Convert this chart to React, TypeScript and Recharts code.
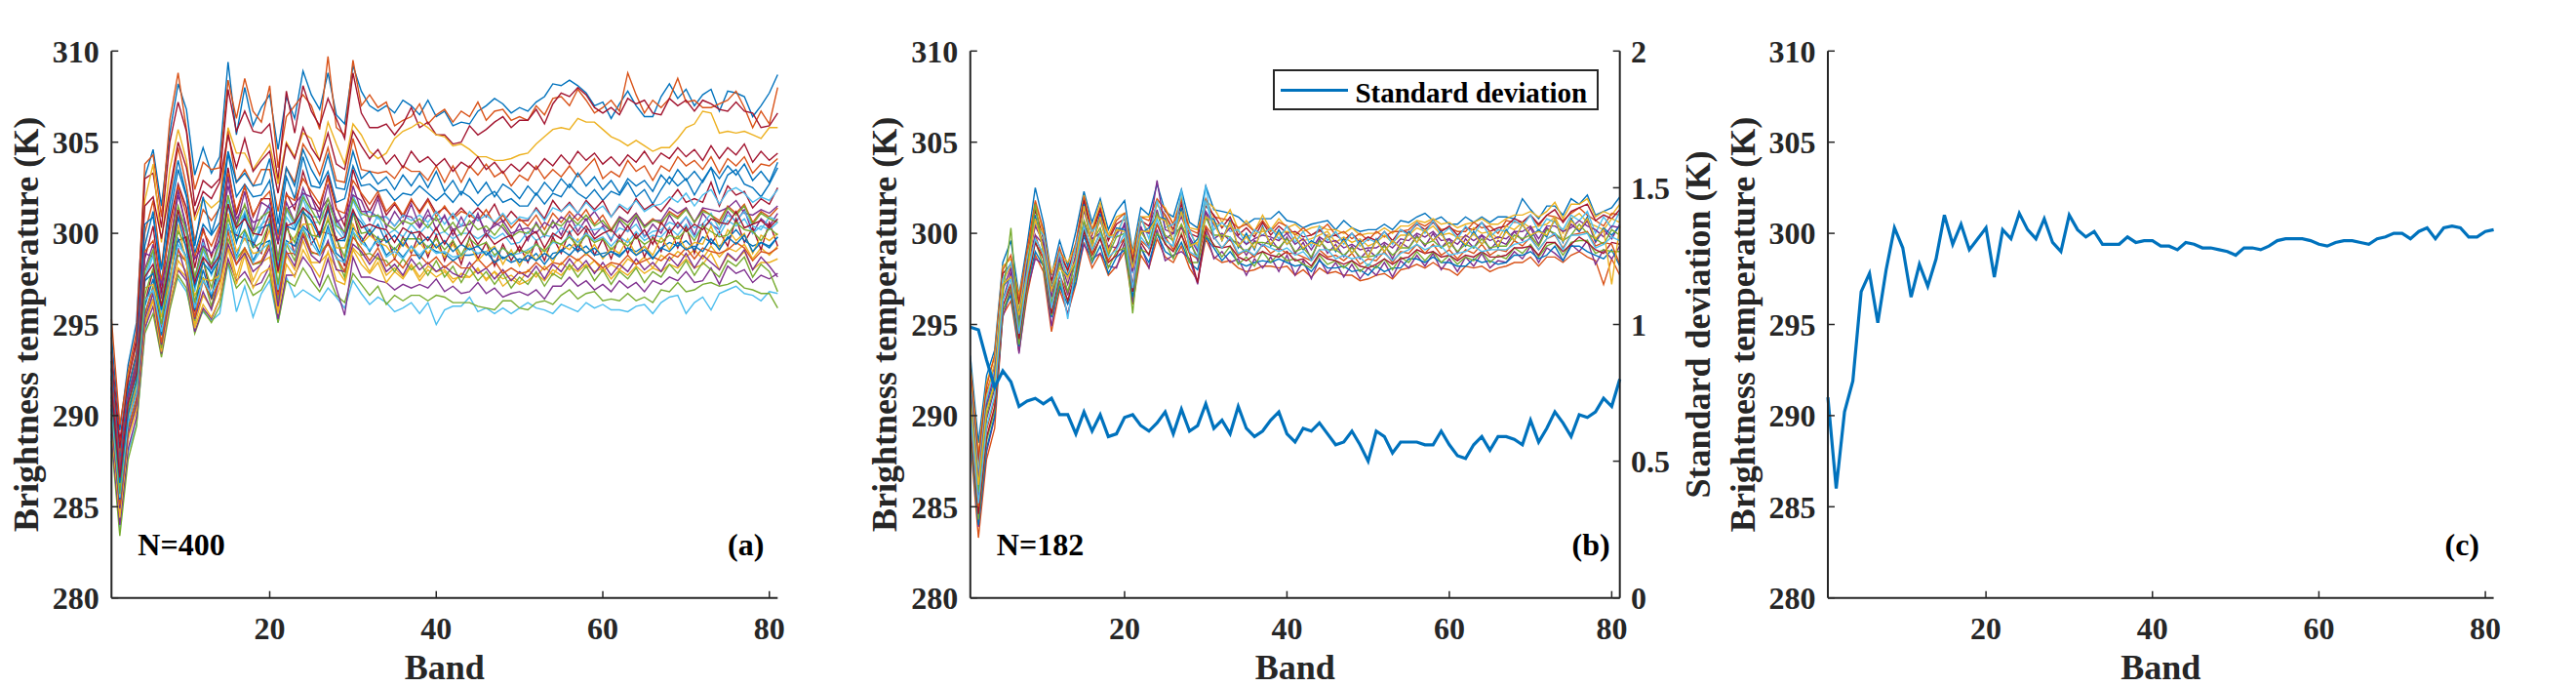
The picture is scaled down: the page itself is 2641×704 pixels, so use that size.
import React from 'react';
import { LineChart, Line, XAxis, YAxis, Legend, Customized } from 'recharts';

const FONT = '"Liberation Serif", "Times New Roman", serif';
const AXIS = '#262626';
const C = {
  blue: '#0072BD', orange: '#D95319', yellow: '#EDB120', purple: '#7E2F8E',
  green: '#77AC30', cyan: '#4DBEEE', red: '#A2142F',
};

// ---------- categories & ticks ----------
const bands = [1,2,3,4,5,6,7,8,9,10,11,12,13,14,15,16,17,18,19,20,21,22,23,24,25,26,27,28,29,30,31,32,33,34,35,36,37,38,39,40,41,42,43,44,45,46,47,48,49,50,51,52,53,54,55,56,57,58,59,60,61,62,63,64,65,66,67,68,69,70,71,72,73,74,75,76,77,78,79,80,81];
const btTicks = [280, 285, 290, 295, 300, 305, 310];
const bandTicks = [20, 40, 60, 80];
const stdTicks = [0, 0.5, 1, 1.5, 2];

// ---------- panel (c): mean brightness temperature ----------
const meanBT = [291.0,286.0,290.2,291.9,296.8,297.8,295.1,298.0,300.3,299.2,296.5,298.3,297.1,298.6,301.0,299.4,300.5,299.1,299.7,300.3,297.6,300.2,299.7,301.1,300.2,299.7,300.8,299.5,299.0,301.0,300.2,299.8,300.1,299.4,299.4,299.4,299.8,299.5,299.6,299.6,299.3,299.3,299.1,299.5,299.4,299.2,299.2,299.1,299.0,298.8,299.2,299.2,299.1,299.3,299.6,299.7,299.7,299.7,299.6,299.4,299.3,299.5,299.6,299.6,299.5,299.4,299.7,299.8,300.0,300.0,299.7,300.1,300.3,299.7,300.3,300.4,300.3,299.8,299.8,300.1,300.2];

// ---------- panel (b): standard deviation ----------
const stdBT = [0.99,0.98,0.87,0.77,0.83,0.79,0.70,0.72,0.73,0.71,0.73,0.67,0.67,0.60,0.68,0.61,0.67,0.59,0.60,0.66,0.67,0.63,0.61,0.64,0.68,0.60,0.69,0.61,0.63,0.71,0.62,0.65,0.60,0.70,0.62,0.59,0.61,0.65,0.68,0.60,0.57,0.62,0.61,0.64,0.60,0.56,0.57,0.61,0.56,0.50,0.61,0.59,0.53,0.57,0.57,0.57,0.56,0.56,0.61,0.56,0.52,0.51,0.56,0.59,0.54,0.59,0.59,0.58,0.56,0.65,0.57,0.62,0.68,0.64,0.59,0.67,0.66,0.68,0.73,0.70,0.80];

// ---------- panel (a): sample spectra (N=400) ----------
const a01 = [294.3,289.2,292.8,295.1,303.1,304.6,301.5,305.5,308.2,306.8,303.2,304.7,303.3,304.2,309.4,305.4,308.0,305.9,306.9,307.6,304.6,307.5,306.3,308.9,307.6,306.8,308.8,306.5,306.0,309.2,307.8,307.0,306.7,307.0,306.6,307.3,307.0,306.5,307.3,306.4,306.7,305.9,306.1,306.0,306.7,307.0,307.4,307.1,306.6,306.9,306.7,307.2,307.5,308.2,308.1,308.4,308.1,307.7,307.0,307.2,306.3,307.1,307.8,307.0,306.4,306.4,307.5,308.2,307.4,307.9,307.0,307.6,307.9,306.7,307.8,307.7,307.5,306.4,307.0,307.7,308.7];
const a02 = [295.3,289.5,292.4,294.6,303.8,304.3,300.9,306.2,308.8,305.7,302.4,303.9,303.5,303.6,308.4,306.3,308.5,306.7,306.1,308.1,303.6,306.4,307.0,307.6,307.0,305.7,309.7,305.8,305.4,309.5,307.0,307.6,306.9,307.2,305.9,306.2,306.4,307.1,306.0,306.5,306.8,306.1,306.7,306.4,307.2,306.2,306.7,306.8,306.2,306.4,306.2,307.0,306.5,307.4,307.5,307.0,307.9,307.3,306.6,306.9,307.3,306.7,308.8,307.6,306.6,307.3,306.9,307.4,308.5,307.2,307.3,306.9,306.9,307.1,307.3,307.8,306.9,305.8,306.7,306.0,308.0];
const a03 = [293.5,288.6,292.0,294.2,303.0,303.3,300.3,305.0,307.2,305.6,301.5,302.9,302.5,303.0,307.9,305.6,306.7,305.6,305.5,306.0,302.9,307.8,305.5,308.1,306.7,305.9,307.4,306.3,305.2,308.8,306.6,305.8,305.8,306.0,305.4,306.0,306.9,305.8,306.1,305.4,305.4,304.9,305.0,305.9,305.4,305.7,306.1,306.4,305.8,306.2,306.2,306.8,306.0,307.1,307.7,307.5,308.0,307.6,306.9,306.6,306.9,306.5,307.4,307.1,307.3,306.6,306.5,307.4,307.0,307.3,306.7,307.3,307.1,306.8,306.7,307.2,306.7,306.6,305.8,305.9,306.6];
const a04 = [293.0,288.0,292.2,293.9,301.8,303.8,299.5,303.5,305.7,304.0,300.7,301.9,301.4,301.8,305.8,304.4,304.4,303.5,304.2,304.9,302.7,305.0,304.2,305.5,305.2,304.0,306.1,304.9,303.8,306.0,305.4,304.5,304.1,304.4,305.2,305.6,305.8,306.1,305.8,305.4,305.3,304.8,304.9,304.6,304.2,304.2,304.0,304.0,304.1,304.3,304.4,304.9,305.3,305.7,305.8,305.7,306.3,306.1,306.1,305.7,305.3,305.1,304.8,305.1,304.8,304.5,304.7,304.7,305.2,305.8,306.0,306.7,306.6,305.5,305.6,305.5,305.6,305.4,305.2,305.8,305.8];
const a05 = [292.5,287.8,291.6,293.5,300.0,301.8,298.1,302.1,304.7,302.6,299.6,301.3,300.7,301.4,305.6,302.8,303.5,302.6,303.5,303.5,301.2,303.6,302.8,304.9,304.2,303.2,304.7,302.9,302.8,305.2,303.5,303.4,303.3,303.4,303.0,303.7,303.4,303.4,302.9,303.7,302.8,303.7,302.8,303.7,303.2,303.8,303.1,303.4,302.6,303.2,302.9,303.7,303.0,303.5,303.1,303.7,303.1,303.6,304.1,303.0,303.4,303.1,304.0,303.4,303.7,302.9,303.7,303.4,304.2,303.7,304.0,303.5,304.2,303.3,304.1,303.7,304.2,303.3,303.8,303.7,304.1];
const a06 = [292.2,287.0,291.2,293.0,299.3,301.2,297.3,301.0,303.5,302.0,298.9,300.5,299.9,300.6,304.4,302.0,302.7,302.0,302.1,302.9,299.9,303.1,301.9,304.2,302.6,302.5,303.4,301.7,301.9,303.7,302.6,302.7,302.3,302.4,301.8,302.2,302.1,302.6,302.2,301.8,302.2,301.7,302.3,302.0,301.5,302.0,302.3,301.7,301.9,301.5,301.5,302.2,301.6,302.2,302.0,302.7,302.2,301.9,302.4,301.8,302.3,302.1,302.8,302.0,302.4,301.6,302.4,303.1,302.6,303.0,302.1,302.9,303.6,302.2,303.2,303.5,302.7,302.5,302.0,302.7,303.6];
const a07 = [292.0,286.8,291.0,292.7,298.6,300.4,296.7,300.6,302.7,301.4,298.1,300.3,298.7,300.2,303.6,301.0,302.6,300.9,301.9,301.9,299.4,302.2,301.3,303.4,302.0,301.3,303.2,301.4,300.4,303.5,302.1,301.2,302.1,301.0,301.6,300.9,301.8,301.2,301.9,301.1,301.4,300.9,301.4,300.9,301.4,300.9,301.6,300.6,301.2,300.7,300.7,301.4,300.8,301.8,301.2,301.7,301.1,301.8,301.3,301.8,300.9,301.5,301.1,301.9,301.3,301.6,301.2,301.8,302.4,301.7,301.9,301.7,302.8,301.5,302.6,302.1,302.3,301.4,301.9,301.6,302.5];
const a08 = [291.6,286.5,290.8,292.6,298.0,299.4,296.4,299.4,302.1,300.4,297.5,299.7,298.0,299.9,302.6,300.8,301.5,300.6,300.8,301.6,298.6,301.7,300.6,302.5,301.4,301.2,301.9,300.8,300.0,302.6,301.2,301.2,300.9,300.9,300.4,301.0,300.9,300.3,301.0,300.7,300.9,300.2,300.4,300.5,300.9,300.1,300.4,300.7,300.0,300.2,300.3,300.0,300.6,300.3,300.9,300.6,301.1,300.7,301.2,300.5,300.1,300.9,300.6,301.1,300.4,300.7,300.7,301.4,301.1,301.4,300.6,301.4,301.3,301.2,301.4,301.8,301.1,301.0,301.3,301.1,301.5];
const a09 = [291.3,286.2,290.6,292.3,297.3,298.8,295.5,298.9,300.9,300.0,296.8,299.1,297.7,299.1,301.9,299.9,301.2,299.5,300.5,300.8,298.2,300.9,300.2,301.9,300.6,300.6,301.3,300.2,299.6,301.8,300.8,300.1,301.0,299.9,300.2,299.8,300.5,300.0,300.5,299.9,300.1,299.7,300.0,300.0,299.7,300.0,299.7,300.0,299.4,299.5,300.1,299.6,299.9,299.8,300.3,300.0,300.5,300.2,300.2,300.3,299.7,300.3,300.1,300.5,299.8,300.1,300.2,300.6,300.4,300.9,300.3,300.5,301.1,300.2,301.0,300.7,301.2,300.4,300.2,300.9,300.7];
const a10 = [291.0,285.7,290.4,291.8,296.6,298.1,295.0,298.2,300.1,299.3,296.2,298.5,297.0,298.9,300.8,299.6,300.2,299.2,299.5,300.6,297.2,300.3,299.5,301.3,299.9,299.8,300.7,299.7,298.7,301.1,300.0,300.1,299.7,299.6,299.1,299.7,299.7,299.7,299.2,299.7,299.1,299.6,298.8,299.7,299.3,299.5,298.8,299.2,298.8,299.1,298.9,299.4,299.0,299.6,299.4,299.8,299.3,299.9,299.5,299.7,299.1,299.6,299.3,299.8,299.4,299.7,299.5,299.9,299.7,300.2,299.6,300.4,300.1,299.8,299.9,300.6,300.2,300.1,299.6,300.3,299.9];
const a11 = [290.4,285.4,289.6,291.4,296.0,297.5,294.4,297.6,299.7,298.7,295.8,298.0,296.5,298.2,300.5,298.7,300.1,298.5,299.4,299.6,297.1,299.6,299.3,300.4,299.9,298.9,300.4,298.9,298.5,300.3,299.8,299.0,299.8,298.8,299.2,298.7,299.3,298.6,299.3,299.0,298.9,298.5,298.8,298.8,298.9,299.0,298.4,298.7,298.4,298.6,298.5,298.9,298.3,298.9,299.0,299.4,299.0,299.3,298.8,298.9,299.0,298.8,299.2,299.0,299.3,298.6,299.2,299.5,299.3,299.6,299.1,299.8,299.5,299.3,299.7,300.2,299.6,299.3,299.5,299.3,299.8];
const a12 = [290.1,285.1,289.3,291.0,295.6,297.0,294.0,297.1,299.1,298.4,295.4,297.4,296.4,297.4,300.1,298.3,299.2,298.3,298.5,299.4,296.6,298.9,298.9,300.0,299.0,298.8,299.4,298.7,297.9,299.8,299.2,298.5,299.2,298.2,298.6,298.1,298.8,298.8,298.3,298.7,298.1,298.5,298.1,298.1,298.6,298.1,298.5,297.8,298.1,297.8,297.9,298.4,298.0,298.4,298.3,298.8,298.5,298.9,298.5,298.1,298.4,298.3,298.8,298.3,298.5,298.7,298.5,298.9,298.7,299.2,298.6,299.2,299.0,298.9,299.1,299.5,299.2,298.5,299.0,298.9,299.2];
const a13 = [289.6,284.4,288.9,290.5,295.1,296.4,293.5,296.7,298.5,297.9,295.0,296.6,295.9,297.0,299.5,297.6,299.1,297.4,298.4,298.7,295.8,298.8,298.0,299.6,298.4,298.4,298.9,298.1,297.4,299.2,298.7,297.9,298.7,297.7,298.1,297.6,298.3,297.6,298.2,297.9,298.0,297.5,297.6,297.6,298.0,297.5,297.9,297.1,297.5,297.2,297.4,297.8,297.4,298.0,297.7,298.2,297.9,298.3,297.9,298.1,297.5,298.0,297.7,298.2,297.8,298.1,297.9,298.3,298.1,298.6,298.1,298.3,298.9,298.0,298.8,298.5,299.0,298.0,298.4,298.4,298.6];
const a14 = [289.0,284.0,288.2,289.9,294.8,296.0,293.4,296.1,298.0,297.4,294.6,295.9,295.3,296.4,298.6,297.4,297.9,297.1,297.3,298.2,295.3,297.7,297.7,298.7,298.1,297.1,298.6,297.0,295.5,298.7,297.6,297.6,297.4,297.3,296.9,297.2,297.0,297.2,297.0,297.5,296.8,297.1,296.7,296.8,297.3,296.7,297.0,296.5,296.7,296.8,296.6,296.9,296.4,297.1,297.1,297.6,297.1,297.4,296.9,297.2,296.8,297.4,297.0,297.3,296.8,297.4,297.2,297.6,297.4,297.9,297.3,297.4,298.1,297.2,298.2,297.8,298.0,297.3,297.7,297.5,297.8];
const a15 = [288.6,283.4,287.6,289.4,294.5,295.6,293.2,295.8,297.7,297.0,294.5,295.8,295.1,296.0,298.4,297.0,297.5,296.6,296.9,297.8,295.1,297.4,297.1,298.1,297.4,296.8,297.7,296.6,296.2,297.8,297.2,296.6,297.1,296.1,296.6,296.3,296.6,296.6,296.3,296.6,296.5,296.2,296.2,296.2,296.0,295.9,295.8,296.3,296.3,295.9,295.8,296.2,296.3,296.1,296.6,296.9,296.4,296.7,296.8,296.3,296.4,296.3,296.7,296.3,296.5,296.2,296.9,296.8,297.3,296.8,296.9,297.2,297.3,297.1,297.2,297.4,297.0,296.9,296.7,296.7,295.9];
const a16 = [288.8,283.8,288.0,289.5,294.5,296.9,293.8,297.0,297.5,296.8,295.0,295.7,295.2,295.6,298.4,295.7,297.1,295.4,296.7,297.4,295.1,297.6,296.5,296.9,296.6,296.3,297.0,296.5,295.9,297.4,296.7,296.1,296.5,296.2,295.7,295.9,296.2,295.6,296.2,295.0,295.8,296.0,296.0,296.5,295.7,295.9,295.6,295.9,295.6,295.9,296.2,295.9,295.8,295.6,296.1,295.9,295.7,296.2,295.9,296.1,295.8,295.8,295.7,296.0,296.1,295.6,296.2,296.5,296.6,295.6,296.2,296.5,295.8,296.7,296.9,297.1,296.7,296.6,296.3,296.8,296.7];
const a17 = [291.5,286.6,290.7,292.3,297.6,298.3,296.0,298.4,301.3,299.5,297.3,298.7,298.1,298.8,301.6,300.3,300.8,300.0,299.9,301.1,297.9,300.4,300.6,301.4,301.0,299.9,301.5,299.6,299.8,301.3,300.3,300.5,300.3,300.2,299.5,300.3,300.0,300.1,299.6,300.3,299.4,300.2,299.4,300.1,299.4,300.0,299.4,299.7,299.9,299.0,299.8,300.1,299.2,300.0,299.7,300.5,299.9,300.4,299.7,300.0,300.2,299.7,300.4,299.7,300.2,299.4,300.6,300.0,300.6,300.1,300.5,300.2,300.8,300.6,300.5,301.2,300.3,300.5,300.7,300.3,300.8];
const a18 = [290.8,285.9,289.9,291.6,297.0,297.2,295.4,297.3,300.5,298.3,296.6,297.5,297.4,297.7,301.1,299.0,299.7,298.9,299.0,300.2,297.8,299.3,299.8,300.5,300.5,299.2,300.9,299.2,299.2,300.5,299.4,299.9,299.5,299.3,298.7,299.5,299.0,299.5,298.9,299.4,298.7,299.4,298.6,299.4,298.5,299.0,299.3,298.3,299.1,298.2,299.1,298.5,299.2,298.4,299.4,299.1,299.7,298.8,299.4,298.6,299.2,298.9,299.7,298.8,299.3,298.8,299.8,299.1,299.9,299.1,299.5,299.4,300.4,299.1,300.2,299.6,300.0,298.9,299.9,299.6,300.0];
const a19 = [291.8,286.9,291.0,292.8,298.9,298.7,297.2,299.1,302.4,300.2,298.6,299.3,298.9,299.6,303.1,300.4,302.3,300.1,301.7,301.4,299.5,301.3,301.6,302.2,302.0,300.8,302.7,300.6,300.9,302.1,301.8,300.7,301.9,300.3,301.2,300.5,301.6,300.4,301.3,300.2,301.0,299.9,300.9,300.0,301.1,299.8,300.6,300.3,299.7,300.5,299.6,300.6,299.8,300.7,299.9,301.0,300.1,300.8,299.9,300.4,299.6,300.7,300.1,300.9,299.8,300.5,300.0,301.0,300.3,300.9,299.9,301.1,300.5,300.2,301.2,300.6,301.3,300.0,300.8,300.4,301.1];
const a20 = [289.9,285.0,289.3,290.8,295.5,297.1,293.7,297.3,298.8,298.5,295.2,297.6,296.0,297.9,299.7,298.6,299.2,298.3,298.4,299.6,296.3,299.4,298.5,300.3,298.9,298.9,299.5,298.7,297.6,300.1,298.8,298.9,298.6,298.5,297.9,298.6,298.0,298.4,297.7,298.5,297.6,298.2,297.3,298.1,297.4,297.9,297.2,297.8,297.0,297.6,297.2,297.9,297.1,297.8,297.5,298.3,297.6,298.2,297.4,298.0,297.2,297.9,297.5,298.1,297.3,297.9,297.6,298.3,297.8,298.5,297.7,298.4,298.0,297.6,298.5,298.2,298.7,297.6,298.3,297.9,296.8];
const a21 = [292.6,287.4,291.5,293.3,300.5,300.9,298.0,301.6,304.0,302.1,299.3,302.0,300.0,301.5,304.5,302.8,303.3,302.6,302.7,304.1,300.5,303.6,302.6,304.6,303.5,302.7,304.3,302.5,302.4,304.5,303.0,303.4,302.7,303.1,302.4,303.2,302.6,303.3,302.5,303.4,302.3,302.9,302.1,303.0,302.2,302.8,302.0,302.7,302.4,301.9,302.6,302.1,302.8,302.3,303.0,302.5,303.3,302.6,303.1,302.4,302.9,302.2,303.0,302.6,302.9,302.3,303.2,302.7,303.5,302.9,303.4,302.8,303.6,303.0,303.7,303.2,303.8,302.9,303.4,302.8,303.9];
const a22 = [290.6,285.9,290.0,291.5,296.1,298.0,294.6,298.4,299.6,299.8,295.7,298.6,296.4,298.9,300.2,299.9,299.7,299.5,298.9,300.7,296.8,300.6,298.8,301.3,299.4,300.1,300.0,299.8,298.2,301.2,299.5,300.2,299.3,299.9,298.6,299.8,298.9,300.0,298.7,299.9,298.5,299.6,298.3,299.8,298.6,299.5,298.2,299.4,298.5,299.3,298.4,299.6,298.5,299.8,298.9,300.1,299.0,300.2,298.8,299.7,298.6,299.9,298.9,300.0,298.7,299.8,299.0,300.3,299.2,300.4,298.9,300.5,299.4,300.1,299.3,300.8,299.5,300.3,299.1,300.6,299.3];
const a23 = [291.6,286.4,290.9,292.2,297.6,299.0,295.7,299.3,301.0,300.4,297.2,299.5,297.7,299.8,301.6,300.5,301.1,300.2,300.4,301.5,298.3,301.3,300.4,302.2,300.9,300.9,301.6,300.6,299.8,302.1,301.0,301.2,300.8,300.9,300.4,301.0,300.7,301.0,300.6,301.2,300.5,301.1,300.4,301.2,300.7,301.0,300.6,301.1,300.5,300.9,300.8,301.3,300.7,301.4,301.2,301.6,301.1,301.7,301.2,301.5,300.9,301.6,301.3,301.8,301.2,301.5,301.6,302.0,301.7,302.2,301.5,302.1,302.4,301.6,302.3,302.5,302.2,301.7,302.0,301.8,302.4];
const a24 = [292.1,287.1,291.0,293.0,299.0,299.6,297.4,300.1,302.6,301.0,298.7,300.1,299.3,300.4,303.3,301.2,302.6,301.0,301.8,302.3,299.6,302.1,301.8,303.0,302.3,301.6,303.0,301.3,301.1,302.9,302.2,301.6,302.3,301.2,301.7,301.0,301.9,301.1,301.8,300.9,301.5,300.8,301.2,301.0,300.7,301.3,300.5,301.0,300.3,300.8,300.4,301.0,300.2,301.1,300.6,301.2,300.7,301.3,300.5,301.0,300.2,300.9,300.6,301.1,300.4,300.8,300.5,301.2,300.9,301.4,300.6,301.3,301.0,300.7,301.5,301.1,301.6,300.6,301.2,300.9,301.4];
const a25 = [289.4,284.6,288.7,290.3,295.0,296.3,293.6,296.2,298.1,297.6,294.8,296.1,295.4,296.4,299.2,297.2,298.8,297.0,297.8,298.1,295.6,298.3,297.6,299.1,298.3,297.6,299.0,297.4,297.2,299.1,298.3,297.8,298.4,297.3,297.9,297.5,298.2,297.4,298.0,297.6,297.9,297.3,297.8,297.6,298.1,297.4,297.9,297.5,297.7,297.3,298.0,297.6,298.2,297.7,298.4,298.0,298.6,298.1,298.5,297.9,298.3,298.0,298.6,298.3,298.7,298.1,298.8,298.5,299.0,298.7,299.1,298.6,299.3,298.7,299.2,299.0,299.4,298.6,299.2,298.8,299.3];
const a26 = [289.8,284.9,289.0,290.6,295.3,296.7,293.9,296.5,299.2,297.6,295.3,296.8,295.8,297.5,299.4,298.3,298.9,297.9,298.3,299.2,296.0,299.0,298.2,299.9,298.8,298.4,299.6,298.0,297.9,299.4,299.0,298.3,298.9,297.9,298.3,297.7,298.6,298.0,298.4,297.9,298.2,297.8,297.6,298.4,297.8,298.1,297.5,298.0,297.4,297.9,297.6,298.2,297.5,298.3,297.9,298.6,298.0,298.5,297.8,298.4,297.7,298.3,297.9,298.6,298.0,298.4,297.9,298.7,298.2,298.9,298.1,298.8,298.4,298.0,298.9,298.5,299.1,298.0,298.7,298.2,297.6];
const a27 = [291.1,286.3,290.1,292.0,297.4,297.8,295.8,298.1,300.9,299.1,297.1,298.4,297.8,298.6,301.6,299.5,301.0,299.3,300.3,300.5,298.0,300.4,300.2,301.2,300.7,299.8,301.3,299.6,299.6,301.1,300.6,299.9,300.5,299.5,299.9,299.3,300.1,299.4,299.8,299.2,299.6,299.0,299.4,299.1,299.3,298.8,299.2,298.6,298.9,298.4,298.8,298.5,298.9,298.6,299.1,298.8,299.3,298.9,299.2,298.7,299.0,298.7,299.2,298.8,299.1,298.6,299.2,299.0,299.5,299.1,299.3,299.0,299.7,299.1,299.8,299.4,299.9,299.0,299.5,299.2,299.8];
const a28 = [293.0,288.2,292.0,294.0,301.5,302.0,299.7,302.4,305.0,303.6,301.0,302.3,301.9,302.8,305.4,303.6,305.2,303.4,304.0,304.5,302.2,304.9,304.1,305.8,304.7,304.0,305.5,303.8,303.5,305.6,304.8,304.1,304.6,303.8,304.3,303.6,304.5,303.9,304.2,303.7,304.1,303.4,303.9,303.6,304.2,303.5,303.9,303.3,303.8,303.4,303.9,303.5,304.1,303.7,304.3,303.8,304.5,304.0,304.4,303.8,304.2,303.7,304.3,303.9,304.5,303.8,304.4,304.1,304.7,304.2,304.6,304.0,304.8,304.1,304.7,304.3,304.9,303.9,304.5,304.0,304.4];
const a29 = [291.4,286.5,290.5,292.4,297.9,299.1,296.0,299.2,301.5,300.1,297.6,299.2,298.3,299.4,302.1,300.3,301.6,299.9,300.9,301.2,298.5,301.4,300.6,302.0,301.3,300.5,301.9,300.4,300.1,301.9,301.1,300.9,301.0,300.5,300.2,300.7,300.5,300.8,300.3,300.9,300.1,300.6,299.9,300.7,300.2,300.4,299.9,300.5,299.8,300.1,300.0,300.5,299.9,300.6,300.4,300.9,300.5,301.0,300.4,300.7,300.1,300.8,300.4,301.0,300.3,300.7,300.6,301.1,300.8,301.3,300.6,301.2,301.0,300.5,301.4,301.0,301.5,300.5,301.1,300.8,300.6];
const a30 = [290.3,285.5,289.7,291.2,296.3,296.9,294.6,297.0,299.4,298.7,295.9,297.4,296.7,297.6,300.5,298.6,300.0,298.4,299.1,299.5,296.9,299.5,298.9,300.3,299.5,298.8,300.2,298.6,298.4,300.1,299.5,299.1,299.6,298.7,299.0,298.6,299.3,298.8,299.3,298.9,299.0,298.7,298.8,299.2,298.9,299.0,298.7,299.2,298.8,298.9,299.1,299.4,299.0,299.5,299.4,299.9,299.5,300.0,299.6,299.8,299.3,299.8,299.5,300.1,299.6,299.9,299.8,300.3,299.9,300.5,299.8,300.4,300.6,299.9,300.7,300.4,300.8,300.0,300.4,300.2,300.6];

// ---------- panel (b): selected spectra (N=182) ----------
const b01 = [293.3,288.5,292.2,293.6,298.4,299.6,296.6,299.4,302.5,300.6,297.7,299.6,298.2,300.1,302.3,300.6,301.9,300.2,301.2,301.8,299.0,301.4,301.0,302.7,301.2,300.9,302.4,300.6,300.3,302.6,301.3,301.2,301.1,300.9,300.5,300.8,300.8,300.8,301.2,300.7,300.6,300.3,300.5,300.6,300.7,300.2,300.7,300.3,300.1,300.2,300.2,300.5,300.2,300.7,300.6,300.9,301.1,300.7,300.9,300.5,300.5,300.9,300.6,300.9,300.6,300.9,300.9,300.8,301.9,301.3,300.8,301.5,301.5,301.0,301.9,301.6,302.1,301.0,301.2,301.4,302.0];
const b02 = [292.6,287.7,291.6,293.3,298.0,298.8,296.3,299.1,301.8,300.2,297.2,299.2,297.9,299.5,302.0,300.1,301.4,299.7,300.7,301.1,298.6,300.9,300.7,301.9,301.3,300.5,301.8,300.2,300.0,301.9,300.9,300.8,300.7,300.3,300.5,300.1,300.7,300.1,300.6,300.4,299.9,300.3,299.9,300.1,300.5,299.9,300.1,299.7,300.0,299.6,300.1,299.8,300.1,300.1,300.2,300.6,300.4,300.7,300.2,300.3,300.1,300.1,300.6,300.3,300.4,300.0,300.7,300.6,300.6,301.0,300.4,301.0,300.9,300.7,301.1,301.4,301.0,300.7,300.4,301.1,301.0];
const b03 = [292.0,287.0,291.1,292.9,297.4,298.2,295.8,298.6,300.7,299.9,296.8,298.9,297.5,299.2,301.3,300.0,300.9,299.8,300.0,300.9,298.0,300.8,300.0,301.6,300.9,300.0,301.3,300.1,299.3,301.7,300.6,300.4,300.4,300.1,299.8,300.0,300.1,300.2,300.0,300.1,300.0,299.6,299.7,299.9,300.1,299.5,299.8,299.5,299.7,299.3,299.5,299.9,299.5,299.9,299.9,300.3,300.1,300.4,299.9,300.0,299.8,299.8,300.3,300.0,300.1,299.7,300.4,300.2,300.6,300.3,300.4,300.5,300.9,300.0,300.8,301.1,300.6,300.4,300.2,300.8,300.6];
const b04 = [291.4,286.4,290.6,292.3,296.9,298.1,295.1,298.3,300.4,299.5,296.5,298.6,297.2,298.8,301.3,299.4,300.8,299.2,300.0,300.4,297.9,300.2,300.0,302.9,300.2,300.0,300.9,299.8,299.0,301.2,300.5,299.8,300.3,299.8,299.4,299.7,299.9,299.8,299.6,300.0,299.4,299.7,299.1,299.8,299.5,299.6,299.2,299.4,299.1,299.2,299.2,299.5,299.2,299.7,299.6,300.0,299.8,300.1,299.6,299.7,299.4,299.9,299.6,299.9,299.6,299.8,299.7,300.1,300.1,300.4,299.7,300.4,300.4,300.1,300.3,300.7,300.4,300.2,299.8,300.4,300.3];
const b05 = [290.8,285.8,290.0,291.7,296.6,300.3,294.8,297.9,301.6,298.9,296.1,298.4,296.8,298.5,300.7,299.5,300.3,298.8,299.8,300.0,295.6,300.1,299.4,301.1,299.9,299.6,300.5,299.5,298.7,300.9,299.9,299.9,299.8,299.3,299.0,299.5,299.5,299.4,299.2,299.7,299.0,299.2,298.7,299.6,299.1,299.1,298.8,299.2,298.7,298.7,298.8,299.3,298.8,299.2,299.2,299.8,299.4,299.6,299.2,299.5,299.0,299.4,299.2,299.7,299.2,299.3,299.3,299.9,299.7,299.9,299.3,300.2,300.0,299.6,299.9,300.5,300.0,299.7,299.4,300.2,299.9];
const b06 = [290.2,285.2,289.4,291.1,296.3,297.5,294.5,297.7,299.7,298.9,295.9,297.9,295.3,298.3,300.4,299.1,300.0,298.7,299.1,300.0,297.0,299.8,299.2,300.8,299.6,299.3,302.4,299.0,298.7,302.6,299.8,299.2,299.8,298.9,299.1,298.8,299.4,299.2,299.0,299.2,298.8,299.0,298.5,299.1,299.1,298.6,298.8,298.6,298.7,298.2,298.8,298.9,298.5,298.9,299.1,299.4,299.1,299.3,299.3,298.8,298.9,299.0,299.3,299.0,299.1,299.1,299.1,299.4,299.5,299.7,299.1,299.7,300.0,299.1,299.9,299.9,300.0,299.2,299.4,299.8,299.6];
const b07 = [289.6,284.6,288.8,290.5,296.0,297.2,294.2,297.3,299.5,298.6,295.6,297.7,296.3,297.9,300.1,298.8,299.7,298.4,298.8,299.7,296.8,299.5,298.8,300.5,299.4,299.0,299.9,298.9,297.3,300.3,299.3,299.2,299.3,298.7,298.5,298.8,299.0,298.8,298.7,299.0,298.5,298.6,298.2,298.9,298.6,298.5,298.3,298.5,298.2,298.1,298.3,298.6,298.3,298.6,298.7,299.1,298.9,299.0,298.7,298.8,298.5,298.8,298.7,299.0,298.7,298.7,298.8,299.2,299.2,299.3,298.8,299.5,299.5,299.0,299.4,299.8,299.5,299.1,298.9,299.5,299.4];
const b08 = [289.0,284.0,288.2,290.0,295.8,296.6,293.8,297.1,299.0,298.2,295.4,297.1,296.1,297.3,299.9,298.4,299.3,297.8,298.7,299.1,296.5,299.2,298.4,300.0,299.0,298.7,299.5,298.4,298.0,299.8,299.2,298.5,299.0,298.4,298.2,298.4,298.5,298.4,298.6,298.4,298.2,298.3,297.9,298.5,298.1,298.1,298.2,297.9,298.0,297.7,298.2,297.9,298.1,298.1,298.6,298.6,298.4,298.7,298.4,298.4,298.2,298.2,298.6,298.4,298.5,298.3,298.4,298.8,298.8,299.0,298.6,298.8,299.3,298.5,299.3,299.3,299.0,298.8,298.6,299.1,298.2];
const b09 = [288.6,283.3,287.6,289.3,295.5,296.3,293.5,296.6,298.8,297.9,294.6,296.9,295.6,297.2,299.5,298.1,298.9,297.7,298.2,299.0,296.1,298.8,298.1,299.7,298.7,298.4,299.3,298.1,297.4,299.7,298.7,298.4,298.5,298.1,297.9,298.0,298.2,298.2,298.1,298.2,297.7,298.0,297.6,298.1,297.8,297.9,297.7,297.7,297.4,297.5,297.7,297.8,297.5,298.0,298.1,298.3,298.1,298.4,298.1,298.0,297.7,298.2,298.1,298.2,297.9,298.1,298.2,298.4,298.4,298.7,298.2,298.7,298.7,298.4,298.8,299.0,298.7,298.5,297.2,298.6,297.7];
const b10 = [291.0,286.2,290.3,291.8,297.2,297.6,295.5,297.8,300.8,299.1,296.9,298.1,297.6,298.5,301.5,299.2,300.9,299.0,300.2,300.1,298.1,300.1,300.1,300.9,300.7,299.6,301.2,299.3,299.5,300.9,300.6,299.6,300.6,299.3,299.8,299.2,300.3,299.4,300.0,299.4,299.8,299.2,299.5,299.3,299.9,299.1,299.6,298.9,299.5,298.7,299.6,299.0,299.6,299.2,300.0,299.5,300.2,299.6,300.0,299.2,299.8,299.4,300.0,299.4,300.0,299.3,300.1,299.6,300.5,299.9,300.1,299.9,300.8,299.6,300.7,300.2,300.8,299.7,300.2,297.2,300.4];
const b11 = [290.5,285.6,289.8,291.5,296.3,297.9,294.6,298.2,299.9,299.4,296.0,298.6,296.6,298.8,300.4,299.7,300.0,299.3,299.2,300.6,297.0,300.4,299.2,301.3,299.7,300.0,300.3,299.7,298.5,301.2,299.7,300.0,299.6,299.5,298.8,299.6,299.3,299.7,299.1,299.8,298.9,299.5,298.6,299.7,298.9,299.4,298.7,299.3,298.6,299.1,298.7,299.4,298.6,299.5,299.2,299.9,299.3,300.0,299.2,299.7,298.9,299.7,299.2,299.9,299.1,299.6,299.4,300.1,299.6,300.3,299.4,300.3,299.9,299.6,300.5,300.1,300.7,299.5,300.2,299.7,300.5];
const b12 = [292.3,287.3,291.3,292.7,297.8,298.3,296.1,298.5,301.3,299.7,297.4,298.8,298.0,299.1,301.8,299.9,301.3,299.6,300.5,300.8,298.4,300.7,300.4,301.6,301.0,300.2,301.6,300.0,299.8,301.5,301.0,300.3,300.9,299.9,300.3,299.8,300.6,299.9,300.4,300.0,300.1,299.8,299.9,300.2,299.8,299.9,299.6,300.0,299.5,299.8,299.6,300.1,299.6,300.2,300.0,300.5,300.2,300.6,300.1,300.4,299.9,300.3,300.2,300.6,300.1,300.3,300.4,300.8,300.6,301.0,300.5,301.0,301.3,300.6,301.2,301.4,301.6,300.7,301.0,300.8,301.3];
const b13 = [291.7,286.8,290.9,292.5,297.5,298.4,295.4,298.6,300.5,299.9,296.9,298.9,297.6,299.3,301.2,300.1,300.6,299.8,299.8,301.0,297.8,300.9,299.7,301.8,300.3,300.5,301.0,300.2,299.1,301.8,300.2,300.6,300.1,300.2,299.4,300.2,299.9,300.3,299.7,300.4,299.5,300.1,299.3,300.4,299.6,300.1,299.4,300.0,299.3,299.7,299.5,300.1,299.4,300.2,299.9,300.6,300.0,300.7,299.9,300.3,299.7,300.4,299.9,300.6,299.8,300.2,300.1,300.7,300.4,301.0,300.1,300.8,300.6,300.2,301.0,300.7,301.2,300.0,300.9,300.3,301.2];
const b14 = [289.3,284.3,288.6,290.3,295.7,297.0,293.9,297.0,299.6,298.2,295.5,297.3,296.3,297.6,300.3,298.5,299.8,298.1,299.0,299.2,296.9,299.1,298.9,300.0,299.5,298.6,300.0,298.4,298.4,299.9,299.4,298.7,299.3,298.3,298.7,298.2,299.0,298.4,298.9,298.5,298.6,298.3,298.1,298.8,298.3,298.5,298.1,298.5,297.9,298.3,298.1,298.6,298.0,298.7,298.4,299.0,298.5,299.0,298.4,298.8,298.3,298.7,298.5,299.0,298.4,298.8,298.6,299.2,298.9,299.4,298.7,299.3,299.5,298.8,299.5,299.6,299.6,298.9,299.1,299.0,299.0];
const b15 = [291.2,286.1,290.4,292.0,297.1,297.6,295.6,297.8,301.0,299.0,297.0,298.1,297.7,298.4,301.6,299.2,301.1,298.9,300.3,300.2,298.2,300.0,300.3,300.9,300.8,299.5,301.4,299.2,299.7,300.8,300.8,299.6,300.7,299.2,300.0,299.1,300.4,299.3,300.2,299.4,299.8,299.1,299.6,299.3,299.9,299.0,299.7,298.9,299.6,298.7,299.7,299.0,299.6,299.2,300.1,299.5,300.2,299.6,300.1,299.2,299.8,299.3,300.1,299.4,300.0,299.2,300.2,299.6,300.5,299.8,300.2,299.8,300.8,299.5,300.8,300.1,300.9,299.6,300.3,299.9,300.4];
const b16 = [290.0,285.0,289.2,290.9,296.4,297.2,294.7,297.4,299.9,298.6,296.1,297.7,296.7,298.0,300.6,298.9,300.1,298.5,299.3,299.7,297.2,299.6,299.2,300.5,299.8,299.1,300.4,298.9,298.6,300.4,299.8,299.2,299.7,298.8,299.1,298.7,299.4,298.9,299.2,298.9,298.9,298.7,298.5,299.1,298.7,298.8,298.5,298.9,298.3,298.6,298.5,299.0,298.4,299.0,298.9,299.4,298.9,299.4,298.8,299.1,298.6,299.1,298.9,299.4,298.8,299.1,299.0,299.6,299.3,299.8,299.1,299.7,299.9,299.2,299.9,300.0,300.1,299.3,299.5,299.4,298.3];
const b17 = [292.8,287.9,291.8,293.3,298.2,298.6,296.6,298.8,301.7,300.0,297.8,299.0,298.4,299.4,302.1,300.2,301.7,299.9,300.9,301.1,298.9,300.9,300.9,301.8,301.4,300.5,302.0,300.3,300.2,301.8,301.4,300.6,301.3,300.2,300.7,300.1,301.0,300.2,300.8,300.3,300.5,300.1,300.3,300.4,300.2,300.2,300.0,300.3,299.9,300.0,300.0,300.3,300.0,300.4,300.4,300.7,300.6,300.8,300.5,300.6,300.3,300.5,300.6,300.8,300.5,300.5,300.8,301.0,301.0,301.2,300.9,301.2,301.7,300.8,301.6,301.6,301.9,300.9,301.2,301.0,301.6];
const b18 = [289.2,283.9,288.0,289.9,295.4,296.9,293.4,296.9,298.6,298.3,294.9,297.4,295.5,297.7,299.4,298.6,298.9,298.2,298.1,299.5,296.2,299.3,298.1,300.2,298.5,298.8,299.0,298.6,297.2,300.1,298.6,299.0,298.4,298.6,297.7,298.6,298.1,298.7,297.9,298.8,297.7,298.5,297.5,298.6,297.8,298.4,297.6,298.3,297.5,298.1,297.7,298.4,297.6,298.5,298.1,298.8,298.2,298.9,298.0,298.6,297.9,298.7,298.2,298.9,298.1,298.5,298.4,299.0,298.6,299.3,298.4,299.2,298.9,298.5,299.4,299.0,299.6,298.3,299.1,298.6,299.3];

const seriesA = [
  { key: 'a01', values: a01, color: C.blue }, { key: 'a02', values: a02, color: C.orange },
  { key: 'a03', values: a03, color: C.red }, { key: 'a04', values: a04, color: C.yellow },
  { key: 'a05', values: a05, color: C.orange }, { key: 'a28', values: a28, color: C.red },
  { key: 'a21', values: a21, color: C.blue }, { key: 'a06', values: a06, color: C.blue },
  { key: 'a16', values: a16, color: C.cyan }, { key: 'a15', values: a15, color: C.green },
  { key: 'a14', values: a14, color: C.purple }, { key: 'a25', values: a25, color: C.yellow },
  { key: 'a07', values: a07, color: C.red }, { key: 'a24', values: a24, color: C.orange },
  { key: 'a13', values: a13, color: C.yellow }, { key: 'a08', values: a08, color: C.purple },
  { key: 'a20', values: a20, color: C.green }, { key: 'a23', values: a23, color: C.cyan },
  { key: 'a26', values: a26, color: C.purple }, { key: 'a12', values: a12, color: C.orange },
  { key: 'a19', values: a19, color: C.purple }, { key: 'a09', values: a09, color: C.cyan },
  { key: 'a22', values: a22, color: C.red }, { key: 'a11', values: a11, color: C.blue },
  { key: 'a29', values: a29, color: C.green }, { key: 'a18', values: a18, color: C.yellow },
  { key: 'a30', values: a30, color: C.cyan }, { key: 'a10', values: a10, color: C.green },
  { key: 'a27', values: a27, color: C.blue }, { key: 'a17', values: a17, color: C.red },
];
const seriesB = [
  { key: 'b01', values: b01, color: C.blue }, { key: 'b09', values: b09, color: C.orange },
  { key: 'b17', values: b17, color: C.yellow }, { key: 'b18', values: b18, color: C.purple },
  { key: 'b02', values: b02, color: C.orange }, { key: 'b08', values: b08, color: C.blue },
  { key: 'b12', values: b12, color: C.red }, { key: 'b14', values: b14, color: C.green },
  { key: 'b03', values: b03, color: C.yellow }, { key: 'b07', values: b07, color: C.red },
  { key: 'b13', values: b13, color: C.cyan }, { key: 'b16', values: b16, color: C.orange },
  { key: 'b04', values: b04, color: C.purple }, { key: 'b11', values: b11, color: C.purple },
  { key: 'b15', values: b15, color: C.blue }, { key: 'b05', values: b05, color: C.green },
  { key: 'b10', values: b10, color: C.yellow }, { key: 'b06', values: b06, color: C.cyan },
];

const rowsA = bands.map((band, i) => {
  const r: any = { band };
  seriesA.forEach((s) => { r[s.key] = s.values[i]; });
  return r;
});
const rowsB = bands.map((band, i) => {
  const r: any = { band, std: stdBT[i] };
  seriesB.forEach((s) => { r[s.key] = s.values[i]; });
  return r;
});
const rowsC = bands.map((band, i) => ({ band, mean: meanBT[i] }));

// ---------- layout ----------
const H = 704;
const PLOT_TOP = 52.3;
const PLOT_BOTTOM = 612.7;
const X_AXIS_H = H - PLOT_BOTTOM;
const THIN = 1.4;

const tickFont = { fontFamily: FONT, fontSize: 32, fontWeight: 'bold', fill: AXIS };
const axisLineStyle = { stroke: AXIS, strokeWidth: 2 };
const tickLineStyle = { stroke: AXIS, strokeWidth: 1.5 };

function PanelText(props: any) {
  const { plotLeft, plotRight, yTitle, rightTitle, nLabel, tag, tagInset } = props;
  const midY = (PLOT_TOP + PLOT_BOTTOM) / 2;
  const yx = plotLeft - 75.5;
  const rx = plotRight + 92.3;
  return (
    <g fontFamily={FONT} fontWeight="bold">
      <text x={yx} y={midY} transform={`rotate(-90 ${yx} ${midY})`} textAnchor="middle" fontSize={36} fill={AXIS}>{yTitle}</text>
      {rightTitle ? (
        <text x={rx} y={midY} transform={`rotate(-90 ${rx} ${midY})`} textAnchor="middle" fontSize={36} fill={AXIS}>{rightTitle}</text>
      ) : null}
      <text x={(plotLeft + plotRight) / 2} y={696} textAnchor="middle" fontSize={36} fill={AXIS}>Band</text>
      {nLabel ? <text x={plotLeft + 27} y={569} fontSize={32} fill="#000">{nLabel}</text> : null}
      <text x={plotRight - tagInset} y={569} textAnchor="end" fontSize={32} fill="#000">{tag}</text>
    </g>
  );
}

function StdLegendBox() {
  return (
    <svg width={334} height={42} style={{ display: 'block' }}>
      <rect x={1} y={1} width={332} height={40} fill="#fff" stroke={AXIS} strokeWidth={2} />
      <line x1={8} x2={77} y1={21.5} y2={21.5} stroke={C.blue} strokeWidth={3.2} />
      <text x={84.4} y={33.5} fontFamily={FONT} fontWeight="bold" fontSize={29} fill="#000">Standard deviation</text>
    </svg>
  );
}

function frameAxes(withRightMirror: boolean) {
  const els = [
    <XAxis key="xb" dataKey="band" type="number" domain={[1, 81]} ticks={bandTicks} interval={0}
      height={X_AXIS_H} tickSize={-7} tickMargin={26.3} tick={tickFont}
      axisLine={axisLineStyle} tickLine={tickLineStyle} />,
    <XAxis key="xt" xAxisId="top" orientation="top" dataKey="band" type="number" domain={[1, 81]}
      ticks={bandTicks} interval={0} height={0} tickSize={-7} tick={false}
      axisLine={axisLineStyle} tickLine={tickLineStyle} />,
  ];
  if (withRightMirror) {
    els.push(
      <YAxis key="yr" yAxisId="mirror" orientation="right" type="number" domain={[280, 310]}
        ticks={btTicks} interval={0} width={0} tickSize={-7} tick={false}
        axisLine={axisLineStyle} tickLine={tickLineStyle} />
    );
  }
  return els;
}

function leftAxis(width: number) {
  return (
    <YAxis type="number" domain={[280, 310]} ticks={btTicks} interval={0} width={width}
      tickSize={-7} tickMargin={19.6} tick={tickFont} axisLine={axisLineStyle}
      tickLine={tickLineStyle} allowDataOverflow />
  );
}

export default function App() {
  const aW = 840, aLeft = 114.3, aRight = 797.3;
  const bX = 880, bW = 900, bLeft = 994.8 - bX, bRight = 1660.7 - bX;
  const cX = 1760, cW = 881, cLeft = 1874 - cX, cRight = 2556.6 - cX;

  return (
    <div style={{ position: 'absolute', left: 0, top: 0, width: 2641, height: H, background: '#fff', overflow: 'hidden' }}>
      <div style={{ position: 'absolute', left: 0, top: 0 }}>
        <LineChart width={aW} height={H} data={rowsA}
          margin={{ top: PLOT_TOP, bottom: 0, left: 0, right: aW - aRight }} style={{ fontFamily: FONT }}>
          {frameAxes(true)}
          {leftAxis(aLeft)}
          {seriesA.map((s) => (
            <Line key={s.key} dataKey={s.key} stroke={s.color} strokeWidth={THIN} dot={false}
              activeDot={false} isAnimationActive={false} />
          ))}
          <Customized component={<PanelText plotLeft={aLeft} plotRight={aRight}
            yTitle="Brightness temperature (K)" nLabel="N=400" tag="(a)" tagInset={14} />} />
        </LineChart>
      </div>

      <div style={{ position: 'absolute', left: bX, top: 0 }}>
        <LineChart width={bW} height={H} data={rowsB}
          margin={{ top: PLOT_TOP, bottom: 0, left: 0, right: 0 }} style={{ fontFamily: FONT }}>
          {frameAxes(false)}
          {leftAxis(bLeft)}
          <YAxis yAxisId="std" orientation="right" type="number" domain={[0, 2]} ticks={stdTicks}
            interval={0} width={bW - bRight} tickSize={-7} tickMargin={18.3} tick={tickFont}
            axisLine={axisLineStyle} tickLine={tickLineStyle} />
          {seriesB.map((s) => (
            <Line key={s.key} dataKey={s.key} stroke={s.color} strokeWidth={THIN} dot={false}
              activeDot={false} isAnimationActive={false} legendType="none" />
          ))}
          <Line yAxisId="std" dataKey="std" name="Standard deviation" stroke={C.blue} strokeWidth={3.2}
            dot={false} activeDot={false} isAnimationActive={false} />
          <Legend layout="vertical" align="center" verticalAlign="middle"
            wrapperStyle={{ left: 1305.4 - bX, top: 70.5, width: 334, height: 42, lineHeight: 0 }}
            content={() => <StdLegendBox />} />
          <Customized component={<PanelText plotLeft={bLeft} plotRight={bRight}
            yTitle="Brightness temperature (K)" rightTitle="Standard deviation (K)"
            nLabel="N=182" tag="(b)" tagInset={10} />} />
        </LineChart>
      </div>

      <div style={{ position: 'absolute', left: cX, top: 0 }}>
        <LineChart width={cW} height={H} data={rowsC}
          margin={{ top: PLOT_TOP, bottom: 0, left: 0, right: cW - cRight }} style={{ fontFamily: FONT }}>
          {frameAxes(true)}
          {leftAxis(cLeft)}
          <Line dataKey="mean" stroke={C.blue} strokeWidth={3.2} dot={false} activeDot={false}
            isAnimationActive={false} />
          <Customized component={<PanelText plotLeft={cLeft} plotRight={cRight}
            yTitle="Brightness temperature (K)" tag="(c)" tagInset={14.6} />} />
        </LineChart>
      </div>
    </div>
  );
}
